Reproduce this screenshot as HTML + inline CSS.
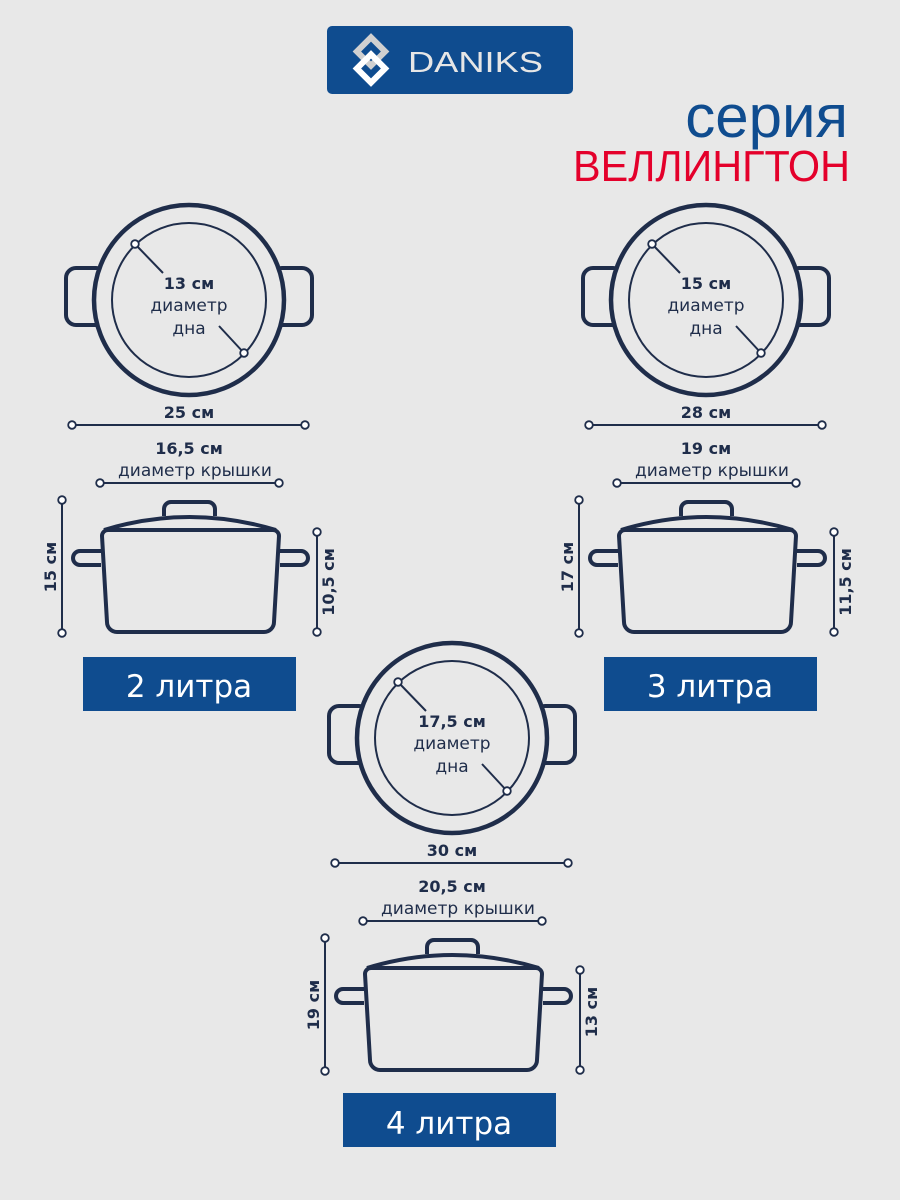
<!DOCTYPE html>
<html><head><meta charset="utf-8"><style>
html,body{margin:0;padding:0;background:#e8e8e8;}
svg{display:block;font-family:"Liberation Sans","DejaVu Sans",sans-serif;}
.t{font-family:"DejaVu Sans","Liberation Sans",sans-serif;fill:#1f2d4a;text-anchor:middle;}
</style></head><body>
<svg width="900" height="1200" viewBox="0 0 900 1200" xmlns="http://www.w3.org/2000/svg">
<rect width="900" height="1200" fill="#e8e8e8"/>
<defs>
<g id="top">
  <rect x="66" y="268" width="40" height="57" rx="10" fill="none" stroke="#1f2d4a" stroke-width="4"/>
  <rect x="272" y="268" width="40" height="57" rx="10" fill="none" stroke="#1f2d4a" stroke-width="4"/>
  <circle cx="189" cy="300" r="95" fill="#e8e8e8" stroke="#1f2d4a" stroke-width="4.5"/>
  <circle cx="189" cy="300" r="77" fill="none" stroke="#1f2d4a" stroke-width="2"/>
  <line x1="135" y1="244" x2="163" y2="273" stroke="#1f2d4a" stroke-width="2"/>
  <line x1="244" y1="353" x2="219" y2="326" stroke="#1f2d4a" stroke-width="2"/>
  <circle cx="135" cy="244" r="3.8" fill="#fff" stroke="#1f2d4a" stroke-width="1.8"/>
  <circle cx="244" cy="353" r="3.8" fill="#fff" stroke="#1f2d4a" stroke-width="1.8"/>
  <line x1="72" y1="425" x2="305" y2="425" stroke="#1f2d4a" stroke-width="2"/>
  <circle cx="72" cy="425" r="3.8" fill="#fff" stroke="#1f2d4a" stroke-width="1.8"/>
  <circle cx="305" cy="425" r="3.8" fill="#fff" stroke="#1f2d4a" stroke-width="1.8"/>
  <line x1="100" y1="483" x2="279" y2="483" stroke="#1f2d4a" stroke-width="2"/>
  <circle cx="100" cy="483" r="3.8" fill="#fff" stroke="#1f2d4a" stroke-width="1.8"/>
  <circle cx="279" cy="483" r="3.8" fill="#fff" stroke="#1f2d4a" stroke-width="1.8"/>
  <line x1="62" y1="500" x2="62" y2="633" stroke="#1f2d4a" stroke-width="2"/>
  <circle cx="62" cy="500" r="3.8" fill="#fff" stroke="#1f2d4a" stroke-width="1.8"/>
  <circle cx="62" cy="633" r="3.8" fill="#fff" stroke="#1f2d4a" stroke-width="1.8"/>
  <line x1="317" y1="532" x2="317" y2="632" stroke="#1f2d4a" stroke-width="2"/>
  <circle cx="317" cy="532" r="3.8" fill="#fff" stroke="#1f2d4a" stroke-width="1.8"/>
  <circle cx="317" cy="632" r="3.8" fill="#fff" stroke="#1f2d4a" stroke-width="1.8"/>
  <path d="M101 551 H80 a7 7 0 0 0 0 14 H101 M280 551 H301 a7 7 0 0 1 0 14 H280" fill="none" stroke="#1f2d4a" stroke-width="4"/>
  <path d="M164 516 V509 a7 7 0 0 1 7 -7 H208 a7 7 0 0 1 7 7 V516" fill="none" stroke="#1f2d4a" stroke-width="4"/>
  <path d="M104 530 Q189 504 276 530" fill="none" stroke="#1f2d4a" stroke-width="4"/>
  <path d="M108 530 H273 a6 6 0 0 1 6 6 L274 622 a10 10 0 0 1 -10 10 H117 a10 10 0 0 1 -10 -10 L102 536 a6 6 0 0 1 6 -6 Z" fill="none" stroke="#1f2d4a" stroke-width="4"/>
</g>
</defs>

<rect x="327" y="26" width="246" height="68" rx="5" fill="#0f4c8f"/>
<g transform="translate(371,60) rotate(45)">
  <rect x="-16" y="-16" width="20" height="20" fill="none" stroke="#d0d0d0" stroke-width="6"/>
  <rect x="-4" y="-4" width="20" height="20" fill="none" stroke="#ffffff" stroke-width="6"/>
</g>
<text x="408" y="72" font-family="Liberation Sans,sans-serif" font-size="29" fill="#e6e6e6" textLength="135" lengthAdjust="spacingAndGlyphs">DANIKS</text>

<text x="848" y="137" font-size="60" fill="#0f4c8f" text-anchor="end">серия</text>
<text x="850" y="181" font-size="44" fill="#e4002b" text-anchor="end" textLength="277" lengthAdjust="spacingAndGlyphs">ВЕЛЛИНГТОН</text>

<use href="#top"/>
<text class="t" x="189" y="289" font-size="16" font-weight="bold">13 см</text>
<text class="t" x="189" y="311" font-size="17">диаметр</text>
<text class="t" x="189" y="334" font-size="17">дна</text>
<text class="t" x="189" y="418" font-size="16" font-weight="bold">25 см</text>
<text class="t" x="189" y="454" font-size="16" font-weight="bold">16,5 см</text>
<text class="t" x="195" y="476" font-size="17">диаметр крышки</text>
<text class="t" transform="translate(56,567) rotate(-90)" font-size="16" font-weight="bold">15 см</text>
<text class="t" transform="translate(334,582) rotate(-90)" font-size="16" font-weight="bold">10,5 см</text>
<rect x="83" y="657" width="213" height="54" fill="#0f4c8f"/>
<text x="189" y="697" font-family="DejaVu Sans,sans-serif" font-size="31" fill="#fff" text-anchor="middle">2 литра</text>

<use href="#top" transform="translate(517,0)"/>
<text class="t" x="706" y="289" font-size="16" font-weight="bold">15 см</text>
<text class="t" x="706" y="311" font-size="17">диаметр</text>
<text class="t" x="706" y="334" font-size="17">дна</text>
<text class="t" x="706" y="418" font-size="16" font-weight="bold">28 см</text>
<text class="t" x="706" y="454" font-size="16" font-weight="bold">19 см</text>
<text class="t" x="712" y="476" font-size="17">диаметр крышки</text>
<text class="t" transform="translate(573,567) rotate(-90)" font-size="16" font-weight="bold">17 см</text>
<text class="t" transform="translate(851,582) rotate(-90)" font-size="16" font-weight="bold">11,5 см</text>
<rect x="604" y="657" width="213" height="54" fill="#0f4c8f"/>
<text x="710" y="697" font-family="DejaVu Sans,sans-serif" font-size="31" fill="#fff" text-anchor="middle">3 литра</text>

<use href="#top" transform="translate(263,438)"/>
<text class="t" x="452" y="727" font-size="16" font-weight="bold">17,5 см</text>
<text class="t" x="452" y="749" font-size="17">диаметр</text>
<text class="t" x="452" y="772" font-size="17">дна</text>
<text class="t" x="452" y="856" font-size="16" font-weight="bold">30 см</text>
<text class="t" x="452" y="892" font-size="16" font-weight="bold">20,5 см</text>
<text class="t" x="458" y="914" font-size="17">диаметр крышки</text>
<text class="t" transform="translate(319,1005) rotate(-90)" font-size="16" font-weight="bold">19 см</text>
<text class="t" transform="translate(597,1012) rotate(-90)" font-size="16" font-weight="bold">13 см</text>
<rect x="343" y="1093" width="213" height="54" fill="#0f4c8f"/>
<text x="449" y="1134" font-family="DejaVu Sans,sans-serif" font-size="31" fill="#fff" text-anchor="middle">4 литра</text>
</svg>
</body></html>
